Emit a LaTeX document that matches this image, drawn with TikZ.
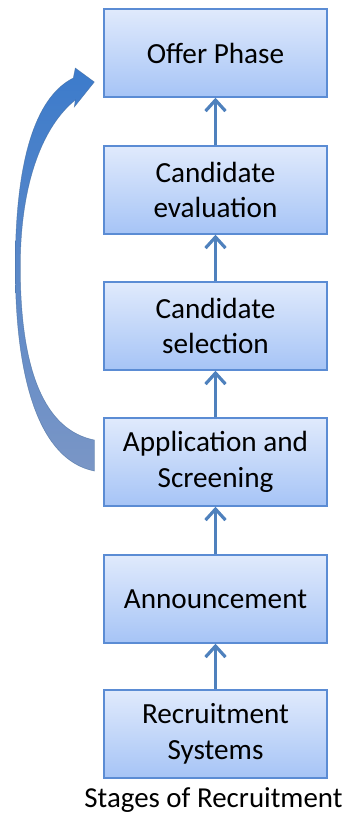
\documentclass[tikz,border=0pt]{standalone}
\usepackage{fontspec}
\setmainfont{Carlito}
\usepackage{tikz}
\usepackage{xcolor}
\usetikzlibrary{positioning, arrows.meta, calc, shadows}
\definecolor{mBoxTop}{HTML}{E0EAFC}
\definecolor{mBoxBot}{HTML}{A6C4F6}
\definecolor{mBoxLine}{HTML}{5B8CD4}
\definecolor{mArrow}{HTML}{4F81BD}
\definecolor{mLoopTop}{HTML}{3C7BCB}
\definecolor{mLoopBot}{HTML}{7A96C6}

\tikzset{
  stage/.style={draw=mBoxLine, line width=1.4pt, top color=mBoxTop, bottom color=mBoxBot,
    minimum width=223pt, minimum height=88pt, align=center, inner sep=0pt,
    font=\fontsize{29.2}{35.5}\selectfont,
    drop shadow={opacity=0.25, shadow xshift=0.8pt, shadow yshift=-1.2pt}},
  stageArrow/.style={draw=mArrow, line width=3pt,
    -{Straight Barb[length=11pt, width=20pt, line width=3.2pt]}}
}

\begin{document}
\begin{tikzpicture}[x=1pt, y=-1pt]
    \useasboundingbox (0,0) rectangle (347,817);

    % the six stages, bottom one first
    \node[stage] (systems) at (215.5,734) {Recruitment\\Systems};
    \node[stage] (announce) at (215.5,599) {Announcement};
    \node[stage] (app) at (215.5,462) {Application and\\Screening};
    \node[stage] (select) at (215.5,326) {Candidate\\selection};
    \node[stage] (eval) at (215.5,190) {Candidate\\evaluation};
    \node[stage] (offer) at (215.5,53) {Offer Phase};

    \node[font=\fontsize{28.9}{35.5}\selectfont] (caption) at (213.5,800) {Stages of Recruitment};

    \draw[stageArrow] (systems) -- (announce);
    \draw[stageArrow] (announce) -- (app);
    \draw[stageArrow] (app) -- (select);
    \draw[stageArrow] (select) -- (eval);
    \draw[stageArrow] (eval) -- (offer);

    % curved shortcut from screening up to the offer
    \coordinate (loopTail) at ($(app.west)+(-9,-6)$);
    \begin{scope}[shift={(loopTail)}]
      \shade[top color=mLoopTop, bottom color=mLoopBot]
        (0,15) .. controls (-55,4) and (-79,-76) .. (-79,-189)
        .. controls (-79,-306) and (-55,-361) .. (-21,-378)
        -- (-19,-388) -- (0,-374) -- (-20,-349) -- (-19,-356)
        .. controls (-50,-331) and (-74,-276) .. (-74,-189)
        .. controls (-74,-86) and (-50,-26) .. (0,-16) -- cycle;
      \draw[mArrow!80!black, line width=0.5pt, opacity=0.6]
        (0,15) .. controls (-55,4) and (-79,-76) .. (-79,-189)
        .. controls (-79,-306) and (-55,-361) .. (-21,-378)
        -- (-19,-388) -- (0,-374) -- (-20,-349) -- (-19,-356)
        .. controls (-50,-331) and (-74,-276) .. (-74,-189)
        .. controls (-74,-86) and (-50,-26) .. (0,-16) -- cycle;
    \end{scope}
  \end{tikzpicture}
\end{document}
